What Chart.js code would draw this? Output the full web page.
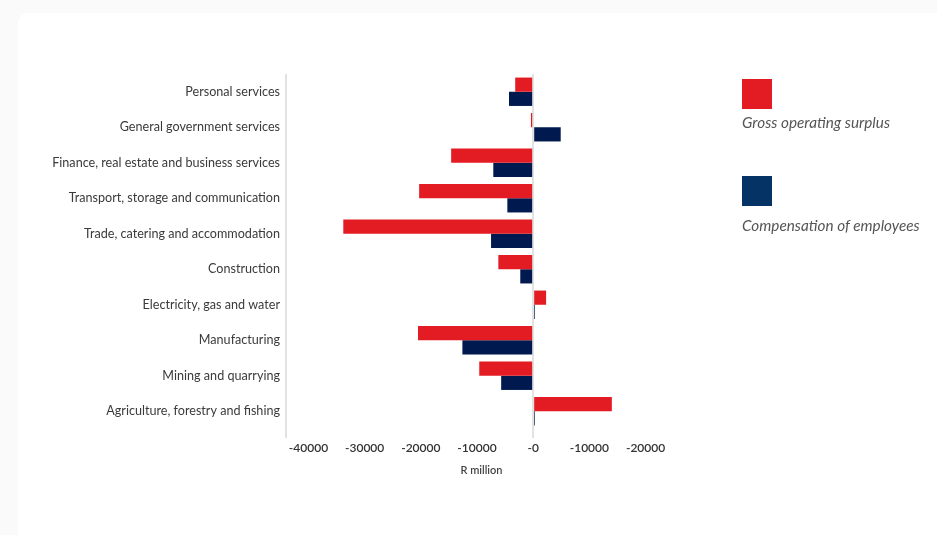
<!DOCTYPE html>
<html>
<head>
<meta charset="utf-8">
<script src="https://cdn.jsdelivr.net/npm/chart.js@4/dist/chart.umd.min.js"></script>
<style>
  html, body { margin:0; padding:0; width:937px; height:535px; overflow:hidden; background:#fafafa; }
  #card { position:absolute; left:18px; top:13px; width:940px; height:540px; background:#ffffff; border-radius:10px; }
  #wrap { position:absolute; left:0; top:0; width:937px; height:535px; }
  .lg-box { position:absolute; width:30px; height:30px; }
  .lg-text { position:absolute; font-family:Lato, 'Open Sans', sans-serif; font-style:italic; font-size:15.3px; color:#555555; white-space:nowrap; line-height:18px; }
</style>
</head>
<body>
<div id="card"></div>
<div id="wrap"><canvas id="c" width="937" height="535"></canvas></div>
<div class="lg-box" style="left:742px; top:79px; background:#e31b23;"></div>
<div class="lg-text" style="left:742px; top:113px;">Gross operating surplus</div>
<div class="lg-box" style="left:742px; top:176px; background:#063365;"></div>
<div class="lg-text" style="left:742px; top:216px;">Compensation of employees</div>
<script>
const categories = [
  "Personal services",
  "General government services",
  "Finance, real estate and business services",
  "Transport, storage and communication",
  "Trade, catering and accommodation",
  "Construction",
  "Electricity, gas and water",
  "Manufacturing",
  "Mining and quarrying",
  "Agriculture, forestry and fishing"
];
const grossOperatingSurplus = [-3200, -400, -14600, -20300, -33800, -6200, 2300, -20500, -9600, 14000];
const compensationOfEmployees = [-4300, 4900, -7100, -4600, -7500, -2300, 300, -12600, -5700, 300];
const xTickValues = [-40000, -30000, -20000, -10000, 0, 10000, 20000];
const xMin = -44000, xMax = 25600;

const ctx = document.getElementById('c').getContext('2d');
new Chart(ctx, {
  type: 'bar',
  data: {
    labels: categories,
    datasets: [
      { label: 'Gross operating surplus', data: grossOperatingSurplus, backgroundColor: '#e31b23', categoryPercentage: 0.8, barPercentage: 1.0 },
      { label: 'Compensation of employees', data: compensationOfEmployees, backgroundColor: '#001a50', categoryPercentage: 0.8, barPercentage: 1.0 }
    ]
  },
  options: {
    indexAxis: 'y',
    responsive: false,
    animation: false,
    layout: { padding: { top: 74, left: 0, right: 260, bottom: 50 } },
    plugins: { legend: { display: false }, tooltip: { enabled: false } },
    scales: {
      x: {
        min: xMin, max: xMax,
        afterBuildTicks: (scale) => {
          scale.ticks = [{ value: xMin }].concat(xTickValues.map(v => ({ value: v })));
        },
        afterFit: (scale) => { scale.height = 56; },
        border: { display: false },
        grid: {
          drawOnChartArea: true,
          drawTicks: true,
          tickLength: 9,
          lineWidth: 2,
          color: (c) => (c.tick && (c.tick.value === 0 || c.tick.value === xMin)) ? '#e2e2e2' : 'rgba(0,0,0,0)'
        },
        ticks: {
          padding: 3,
          autoSkip: false,
          maxRotation: 0,
          color: '#333333',
          font: { family: 'Lato', size: 12, weight: '600' },
          callback: (v) => (v === xMin ? '' : '-' + Math.abs(v))
        },
        title: {
          display: true,
          text: 'R million',
          color: '#444444',
          font: { family: 'Lato', size: 11, weight: '600' },
          padding: { top: 4, bottom: 8 }
        }
      },
      y: {
        afterFit: (scale) => { scale.width = 286; },
        border: { display: false },
        grid: { display: false, drawTicks: false },
        ticks: {
          padding: 6,
          color: '#3a3a3a',
          font: { family: 'Lato', size: 12.6 }
        }
      }
    }
  }
});
</script>
</body>
</html>
